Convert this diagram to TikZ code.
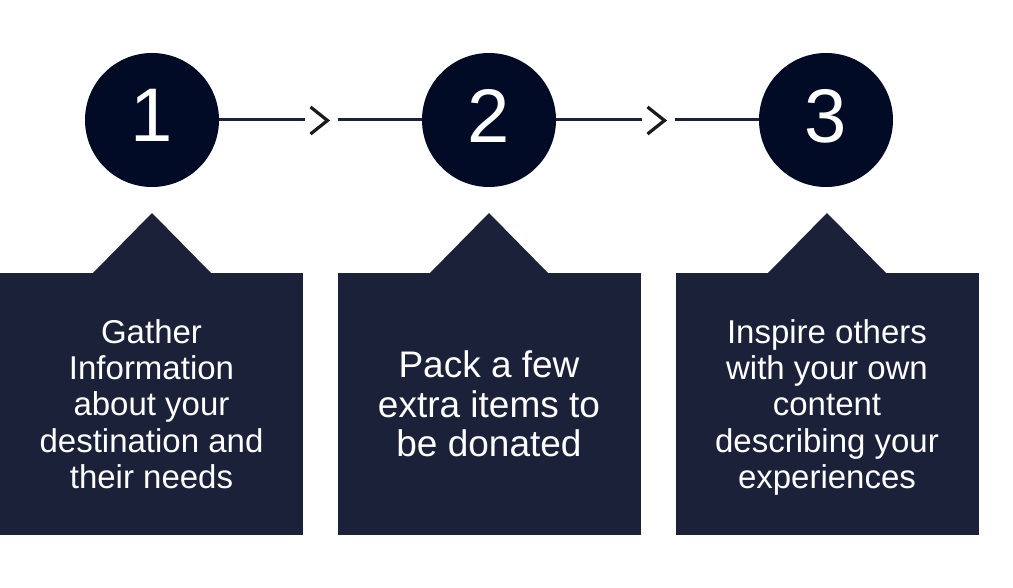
\documentclass[tikz,border=0pt]{standalone}
\usepackage{fontspec}
\setmainfont{Liberation Sans}
\begin{document}
\begin{tikzpicture}[x=1pt,y=-1pt,
  stepnum/.style={circle, fill=numfill, minimum size=134pt, inner sep=0pt,
    text=white, font=\fontsize{76}{80}\selectfont, text depth=9pt},
  infobox/.style={rectangle, fill=boxfill, minimum width=303pt, minimum height=262pt,
    inner sep=0pt, text=white, align=center},
  boxtext/.style={font=\fontsize{33}{36.3}\selectfont},
  bigtext/.style={font=\fontsize{37}{39.5}\selectfont},
  conn/.style={draw=boxfill, line width=3pt},
  chev/.style={draw=chevc, line width=3.2pt, miter limit=10}]
\definecolor{numfill}{HTML}{010B26}
\definecolor{boxfill}{HTML}{1B2139}
\definecolor{chevc}{HTML}{1A1A1A}
\useasboundingbox (0,0) rectangle (1013,588);

% numbered steps
\node[stepnum] (c1) at (152,120) {1};
\node[stepnum] (c2) at (489,120) {2};
\node[stepnum] (c3) at (826,120) {3};

% connector gaps around the chevrons
\coordinate (g1a) at (305,120);
\coordinate (g1b) at (338,120);
\coordinate (g2a) at (642,120);
\coordinate (g2b) at (675,120);

\draw[conn] (c1) -- (g1a);
\draw[conn] (g1b) -- (c2);
\draw[conn] (c2) -- (g2a);
\draw[conn] (g2b) -- (c3);

\draw[chev] (310.5,107) -- (327.5,120.5) -- (310.5,134);
\draw[chev] (647.5,107) -- (664.5,120.5) -- (647.5,134);

% callout boxes with pointers
\fill[boxfill] (92,274) -- (152,213) -- (212,274) -- cycle;
\fill[boxfill] (429,274) -- (489,213) -- (549,274) -- cycle;
\fill[boxfill] (767,274) -- (827,213) -- (887,274) -- cycle;

\node[infobox, boxtext] (b1) at (151.5,404)
  {Gather\\Information\\about your\\destination and\\their needs};
\node[infobox, bigtext] (b2) at (489,404)
  {Pack a few\\extra items to\\be donated};
\node[infobox, boxtext, text depth=0pt] (b3) at (827,404)
  {Inspire others\\with your own\\content\\describing your\\experiences};
\end{tikzpicture}
\end{document}
